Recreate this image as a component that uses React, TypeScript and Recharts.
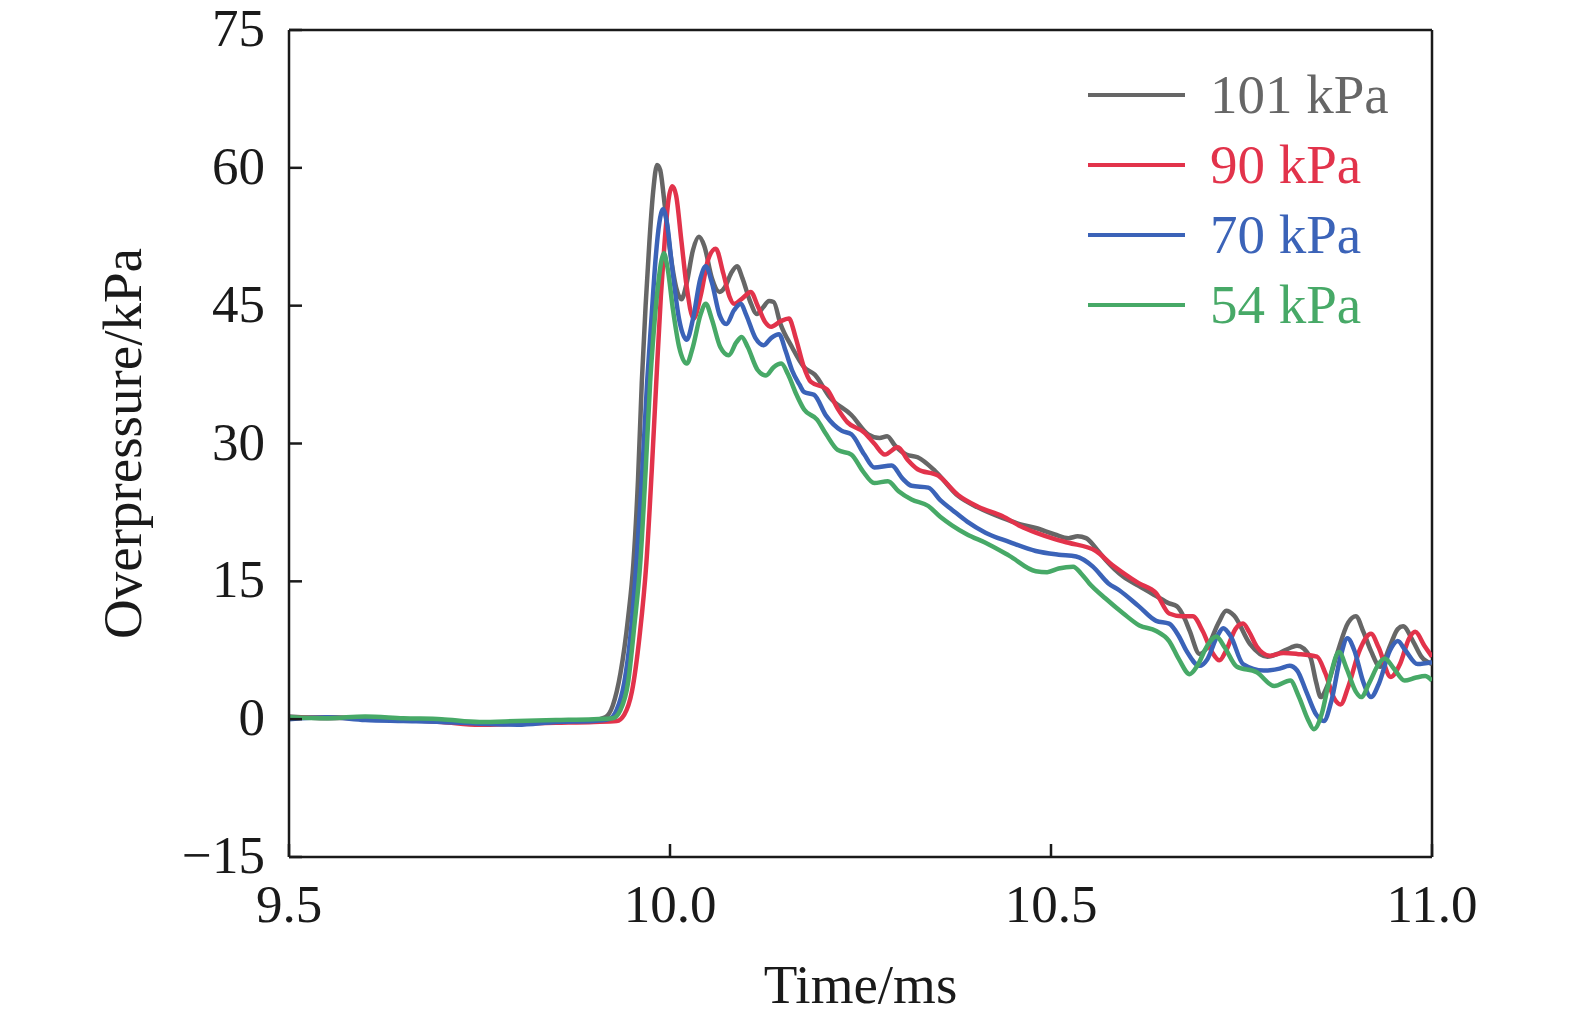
import { LineChart, Line, XAxis, YAxis, ReferenceLine, Label } from 'recharts';

// [time (ms), overpressure (kPa)]
const p101: [number, number][] = [
  [9.5, 0.3], [9.55, 0.1], [9.6, 0.2], [9.65, 0.0], [9.7, -0.1], [9.75, -0.4], [9.8, -0.3], [9.85, -0.2], [9.9, -0.1],
  [9.915, 0.2], [9.925, 1.5], [9.935, 5], [9.945, 11], [9.952, 17], [9.958, 26], [9.963, 36.7], [9.968, 45], [9.973, 52],
  [9.978, 57.5], [9.983, 60.3], [9.987, 59.8], [9.993, 56], [10.0, 51], [10.008, 47], [10.015, 45.7], [10.022, 47.5],
  [10.03, 51], [10.038, 52.5], [10.045, 51.5], [10.055, 48], [10.065, 46.5], [10.072, 47], [10.08, 48.5], [10.088, 49.3],
  [10.095, 48], [10.105, 45.5], [10.114, 44.1], [10.122, 44.8], [10.13, 45.5], [10.136, 45.4], [10.145, 43], [10.16, 40.5],
  [10.176, 38.3], [10.19, 37.5], [10.21, 35], [10.238, 33.1], [10.26, 31], [10.275, 30.6], [10.285, 30.8], [10.295, 29.8],
  [10.31, 28.8], [10.325, 28.5], [10.348, 27], [10.378, 24.3], [10.405, 23], [10.436, 21.9], [10.46, 21.2], [10.48, 20.8],
  [10.505, 20.1], [10.523, 19.7], [10.535, 19.9], [10.546, 19.7], [10.56, 18.5], [10.572, 17.3], [10.595, 15.5],
  [10.615, 14.5], [10.638, 13.4], [10.655, 12.6], [10.665, 12.3], [10.675, 11], [10.682, 9.6], [10.695, 7.1], [10.705, 7.8],
  [10.72, 10.5], [10.73, 11.8], [10.74, 11.3], [10.761, 8.2], [10.784, 6.8], [10.8, 7.2], [10.815, 7.8], [10.823, 8.0],
  [10.84, 6.8], [10.848, 4], [10.854, 2.4], [10.862, 3.5], [10.875, 7], [10.89, 10.5], [10.9, 11.2], [10.91, 9.5],
  [10.92, 7.4], [10.932, 5.7], [10.945, 8], [10.955, 9.8], [10.962, 10.1], [10.975, 8.5], [10.986, 6.8], [11.0, 6.0],
];

const p90: [number, number][] = [
  [9.5, 0.1], [9.55, 0.2], [9.6, 0.0], [9.65, -0.1], [9.7, -0.3], [9.75, -0.6], [9.8, -0.5], [9.85, -0.4], [9.9, -0.3],
  [9.93, -0.2], [9.94, 0.5], [9.95, 3], [9.96, 9], [9.969, 17], [9.976, 27], [9.982, 36.7], [9.988, 46], [9.993, 52],
  [9.998, 56.5], [10.003, 58], [10.008, 57], [10.015, 52], [10.022, 47], [10.031, 43.6], [10.04, 46], [10.05, 50],
  [10.06, 51.2], [10.07, 48.5], [10.078, 46], [10.084, 45.2], [10.095, 45.8], [10.106, 46.5], [10.115, 45], [10.125, 43.2],
  [10.133, 42.7], [10.145, 43.3], [10.156, 43.6], [10.165, 41.5], [10.175, 38.5], [10.185, 36.7], [10.206, 35.9],
  [10.22, 33.8], [10.233, 32.3], [10.255, 31.2], [10.268, 30], [10.282, 28.8], [10.299, 29.6], [10.312, 28.2],
  [10.325, 27.2], [10.352, 26.5], [10.378, 24.4], [10.405, 23.1], [10.436, 22.1], [10.46, 21.0], [10.48, 20.3],
  [10.505, 19.6], [10.523, 19.2], [10.559, 18.3], [10.58, 16.8], [10.595, 15.9], [10.615, 14.8], [10.638, 13.7],
  [10.655, 11.5], [10.672, 11.2], [10.686, 11.2], [10.699, 9.6], [10.712, 7.2], [10.721, 6.4], [10.73, 7.5], [10.742, 9.8],
  [10.752, 10.4], [10.76, 9.5], [10.77, 7.9], [10.787, 6.9], [10.805, 7.2], [10.823, 7.1], [10.849, 6.8], [10.86, 5],
  [10.872, 2.2], [10.88, 1.6], [10.89, 3.5], [10.905, 7.5], [10.92, 9.3], [10.93, 7.8], [10.946, 4.6], [10.958, 6],
  [10.97, 8.8], [10.978, 9.5], [10.99, 8], [11.0, 6.8],
];

const p70: [number, number][] = [
  [9.5, 0.0], [9.55, 0.2], [9.6, -0.1], [9.65, -0.2], [9.7, -0.3], [9.75, -0.5], [9.8, -0.6], [9.85, -0.3], [9.9, -0.2],
  [9.92, 0.0], [9.93, 1], [9.94, 4], [9.948, 9], [9.956, 17], [9.963, 26], [9.97, 36.7], [9.976, 44], [9.981, 50],
  [9.986, 54], [9.991, 55.5], [9.996, 54], [10.003, 49], [10.012, 43.5], [10.022, 41.3], [10.03, 43.5], [10.04, 48],
  [10.047, 49.3], [10.055, 47.5], [10.065, 44], [10.074, 43.0], [10.084, 44.5], [10.093, 45.2], [10.1, 44], [10.112, 41.5],
  [10.123, 40.7], [10.133, 41.5], [10.143, 41.9], [10.152, 40], [10.16, 38], [10.17, 36.4], [10.176, 35.6], [10.189, 35.3],
  [10.205, 33], [10.225, 31.4], [10.238, 31.0], [10.255, 28.8], [10.268, 27.4], [10.291, 27.6], [10.305, 26.2],
  [10.317, 25.4], [10.339, 25.2], [10.355, 23.8], [10.37, 22.8], [10.39, 21.5], [10.414, 20.3], [10.445, 19.3],
  [10.48, 18.3], [10.51, 17.9], [10.533, 17.7], [10.555, 16.6], [10.575, 14.8], [10.59, 14.0], [10.615, 12.3],
  [10.638, 10.7], [10.655, 10.4], [10.668, 9], [10.678, 7.4], [10.695, 5.8], [10.705, 6.5], [10.718, 9], [10.726, 9.9],
  [10.736, 9], [10.752, 6.0], [10.779, 5.3], [10.8, 5.5], [10.813, 5.8], [10.823, 5.3], [10.835, 3], [10.848, 0.5],
  [10.858, -0.2], [10.868, 2], [10.88, 6.8], [10.889, 8.8], [10.898, 7.5], [10.91, 4], [10.92, 2.4], [10.93, 3.8],
  [10.945, 7.5], [10.955, 8.5], [10.965, 7.5], [10.981, 6.0], [11.0, 6.2],
];

const p54: [number, number][] = [
  [9.5, 0.2], [9.55, 0.1], [9.6, 0.3], [9.65, 0.1], [9.7, 0.0], [9.75, -0.3], [9.8, -0.2], [9.85, -0.1], [9.9, 0.0],
  [9.925, 0.1], [9.935, 1], [9.945, 4], [9.953, 10], [9.961, 17], [9.968, 27], [9.974, 36.7], [9.979, 42.5], [9.984, 47],
  [9.989, 50], [9.992, 50.7], [9.997, 49], [10.004, 44.5], [10.012, 40.5], [10.022, 38.7], [10.03, 40.5], [10.04, 44],
  [10.047, 45.2], [10.055, 43.5], [10.066, 40.5], [10.077, 39.6], [10.087, 41], [10.094, 41.6], [10.102, 40.5],
  [10.115, 38], [10.126, 37.4], [10.136, 38.3], [10.146, 38.7], [10.155, 37.5], [10.165, 35.5], [10.176, 33.7],
  [10.193, 32.6], [10.205, 31], [10.22, 29.3], [10.238, 28.8], [10.253, 27], [10.268, 25.7], [10.286, 25.9], [10.3, 24.8],
  [10.317, 23.9], [10.339, 23.2], [10.355, 22], [10.37, 21.1], [10.39, 20.1], [10.414, 19.2], [10.445, 17.8], [10.48, 16.1],
  [10.495, 16.0], [10.51, 16.4], [10.529, 16.6], [10.54, 15.8], [10.55, 14.8], [10.572, 13.1], [10.595, 11.5],
  [10.616, 10.2], [10.638, 9.6], [10.655, 8.5], [10.668, 6.5], [10.682, 4.9], [10.692, 5.8], [10.705, 8], [10.717, 9.0],
  [10.728, 7.8], [10.744, 5.7], [10.77, 5.1], [10.793, 3.6], [10.814, 4.2], [10.825, 2.5], [10.837, 0], [10.845, -1.1],
  [10.855, 0.5], [10.866, 4.5], [10.878, 7.3], [10.888, 5.5], [10.9, 3], [10.907, 2.4], [10.918, 4], [10.93, 6],
  [10.938, 6.6], [10.95, 5.5], [10.964, 4.2], [10.978, 4.5], [10.991, 4.7], [11.0, 4.2],
];

const seriesNames = ['101 kPa', '90 kPa', '70 kPa', '54 kPa'];
const seriesColors = ['#666666', '#e2334b', '#3b63b8', '#47a967'];
const seriesPoints = [p101, p90, p70, p54];

const xTicks = [9.5, 10.0, 10.5, 11.0];
const yTicks = [-15, 0, 15, 30, 45, 60, 75];

const FONT = '"Liberation Serif", "Times New Roman", serif';
const tickStyle = { fontFamily: FONT, fontSize: 53, fill: '#1a1a1a' };
const labelStyle = { fontFamily: FONT, fontSize: 55, fill: '#1a1a1a' };

const fmtY = (v: number) => (v < 0 ? `\u2212${Math.abs(v)}` : `${v}`);

function YTick(props: any) {
  const { x, y, payload } = props;
  return (
    <text x={x} y={y} dy={16} textAnchor="end" style={tickStyle}>
      {fmtY(payload.value)}
    </text>
  );
}

export default function App() {
  const series = seriesPoints.map((pts) => pts.map(([t, v]) => ({ t, v })));
  return (
    <div style={{ position: 'relative', width: 1559, height: 1008, background: '#fff' }}>
      <LineChart
        width={1559}
        height={1008}
        margin={{ top: 22, right: 135, bottom: 0, left: 0 }}
        style={{ overflow: 'visible' }}
      >
        <XAxis
          dataKey="t"
          type="number"
          domain={[9.5, 11]}
          ticks={xTicks}
          allowDataOverflow
          height={159}
          tickSize={-13}
          tickMargin={40}
          tick={tickStyle}
          tickFormatter={(v: number) => v.toFixed(1)}
          stroke="#1a1a1a"
          strokeWidth={2.5}
        >
          <Label
            content={({ viewBox }: any) => (
              <text
                x={viewBox.x + viewBox.width / 2}
                y={viewBox.y + 146}
                textAnchor="middle"
                style={labelStyle}
              >
                Time/ms
              </text>
            )}
          />
        </XAxis>
        <YAxis
          type="number"
          domain={[-15, 75]}
          ticks={yTicks}
          allowDataOverflow
          width={281}
          tickSize={-13}
          tickMargin={37}
          tick={YTick}
          stroke="#1a1a1a"
          strokeWidth={2.5}
        >
          <Label
            content={({ viewBox }: any) => {
              const cx = viewBox.x + 114;
              const cy = viewBox.y + viewBox.height / 2;
              return (
                <text
                  x={cx}
                  y={cy}
                  textAnchor="middle"
                  dominantBaseline="central"
                  transform={`rotate(-90, ${cx}, ${cy})`}
                  style={labelStyle}
                >
                  Overpressure/kPa
                </text>
              );
            }}
          />
        </YAxis>
        <ReferenceLine y={75} stroke="#1a1a1a" strokeWidth={2.5} />
        <ReferenceLine x={11} stroke="#1a1a1a" strokeWidth={2.5} />
        {series.map((d, i) => (
          <Line
            key={seriesNames[i]}
            data={d}
            dataKey="v"
            type="monotone"
            stroke={seriesColors[i]}
            strokeWidth={4.5}
            dot={false}
            isAnimationActive={false}
          />
        ))}
      </LineChart>
      <div style={{ position: 'absolute', left: 1080, top: 52 }}>
        {seriesNames.map((name, i) => (
          <div key={name} style={{ display: 'flex', alignItems: 'center', height: 70 }}>
            <div style={{ width: 97, height: 4.5, background: seriesColors[i], marginRight: 25 }} />
            <span style={{ fontFamily: FONT, fontSize: 55, color: seriesColors[i], lineHeight: '70px' }}>{name}</span>
          </div>
        ))}
      </div>
    </div>
  );
}
